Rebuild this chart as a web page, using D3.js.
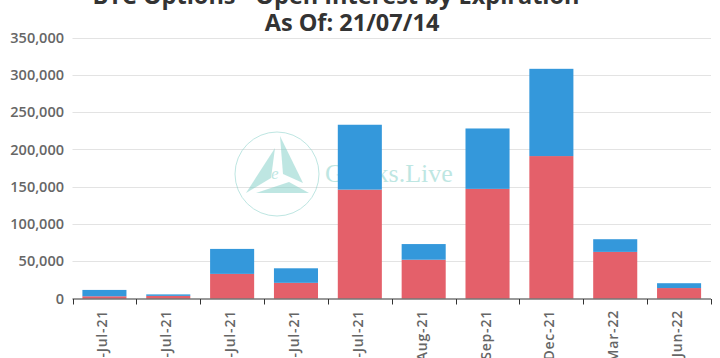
<!DOCTYPE html>
<html>
<head>
<meta charset="utf-8">
<script src="https://cdn.jsdelivr.net/npm/d3@7"></script>
<style>
  html, body { margin: 0; padding: 0; background: #fff; }
  svg { display: block; }
</style>
</head>
<body>
<svg id="chart" width="720" height="358"></svg>
<script>
// ---- data ----
const categories = ["14-Jul-21", "15-Jul-21", "16-Jul-21", "23-Jul-21", "30-Jul-21",
                    "27-Aug-21", "24-Sep-21", "31-Dec-21", "25-Mar-22", "24-Jun-22"];
const redSeries  = [3000, 3500, 33000, 21000, 146000, 52000, 147000, 191000, 62500, 14000];
const blueSeries = [8500, 2000, 33500, 19500, 87000, 21000, 81000, 117000, 17000, 6500];
const yTicks = [0, 50000, 100000, 150000, 200000, 250000, 300000, 350000];
const titleLines = ["BTC Options - Open Interest by Expiration", "As Of: 21/07/14"];

// ---- setup ----
const svg = d3.select("#chart");
const plotL = 72.5, plotR = 711, plotT = 37.5, plotB = 298.5;
const RED = "#e4606a", BLUE = "#3498db";

const x = d3.scaleBand().domain(categories).range([plotL, plotR]).padding(0);
const y = d3.scaleLinear().domain([0, 350000]).range([plotB, plotT]);

// gridlines
svg.append("g").selectAll("line").data(yTicks.filter(d => d > 0)).join("line")
  .attr("x1", plotL).attr("x2", plotR)
  .attr("y1", d => Math.round(y(d)) + 0.5).attr("y2", d => Math.round(y(d)) + 0.5)
  .attr("stroke", "#e3e3e3").attr("stroke-width", 1);

// y labels
svg.append("g").selectAll("text").data(yTicks).join("text")
  .attr("x", 64).attr("y", d => y(d)).attr("dy", "0.36em")
  .attr("text-anchor", "end")
  .attr("font-family", "'Open Sans', sans-serif").attr("font-size", 14.5)
  .attr("font-weight", 600).attr("fill", "#666")
  .text(d => d3.format(",")(d));

// watermark
const wm = svg.append("g").attr("opacity", 0.5);
const wmc = "#7fcfc7";
wm.append("circle").attr("cx", 277).attr("cy", 174).attr("r", 42)
  .attr("fill", "none").attr("stroke", wmc).attr("stroke-width", 1);
wm.append("polygon").attr("points", "246,193 275,148 271,178").attr("fill", wmc);
wm.append("polygon").attr("points", "280,136 303,183 283,174").attr("fill", wmc);
wm.append("polygon").attr("points", "256,193 309,193 289,182").attr("fill", wmc);
wm.append("text").attr("x", 271).attr("y", 179)
  .attr("font-family", "'Liberation Serif', serif").attr("font-style", "italic")
  .attr("font-size", 17).attr("fill", wmc).text("e");
wm.append("text").attr("x", 325).attr("y", 182)
  .attr("font-family", "'Liberation Serif', serif")
  .attr("font-size", 26).attr("fill", wmc).text("Greeks.Live");

// bars
const bw = x.bandwidth() * 0.69;
const off = (x.bandwidth() - bw) / 2;
const stacked = categories.map((c, i) => ({ c, r: redSeries[i], b: blueSeries[i] }));
const bars = svg.append("g");
bars.selectAll("rect.red").data(stacked).join("rect").attr("class", "red")
  .attr("x", d => x(d.c) + off).attr("width", bw)
  .attr("y", d => y(d.r)).attr("height", d => y(0) - y(d.r))
  .attr("fill", RED);
bars.selectAll("rect.blue").data(stacked).join("rect").attr("class", "blue")
  .attr("x", d => x(d.c) + off).attr("width", bw)
  .attr("y", d => y(d.r + d.b)).attr("height", d => y(d.r) - y(d.r + d.b))
  .attr("fill", BLUE);

// x axis
const xa = svg.append("g");
xa.append("line").attr("x1", plotL).attr("x2", plotR)
  .attr("y1", plotB + 0.5).attr("y2", plotB + 0.5)
  .attr("stroke", "#333").attr("stroke-width", 1);
const edges = categories.map(c => x(c)).concat([x(categories[categories.length - 1]) + x.bandwidth()]);
xa.selectAll("line.tick").data(edges).join("line").attr("class", "tick")
  .attr("x1", d => Math.round(d) + 0.5).attr("x2", d => Math.round(d) + 0.5)
  .attr("y1", plotB + 0.5).attr("y2", plotB + 6)
  .attr("stroke", "#333");
xa.selectAll("text").data(categories).join("text")
  .attr("transform", d => `translate(${x(d) + x.bandwidth() / 2 - 2},310) rotate(-90)`)
  .attr("dy", "0.36em")
  .attr("text-anchor", "end")
  .attr("font-family", "'Open Sans', sans-serif").attr("font-size", 14)
  .attr("letter-spacing", "0.8px")
  .attr("font-weight", 600).attr("fill", "#666")
  .text(d => d);

// title
svg.append("g").selectAll("text").data(titleLines).join("text")
  .attr("x", (d, i) => i === 0 ? 336 : 352).attr("y", (d, i) => 4 + i * 27)
  .attr("text-anchor", "middle")
  .attr("font-family", "'Open Sans', sans-serif").attr("font-size", 23.5)
  .attr("font-weight", 700).attr("fill", "#333")
  .text(d => d);
</script>
</body>
</html>
